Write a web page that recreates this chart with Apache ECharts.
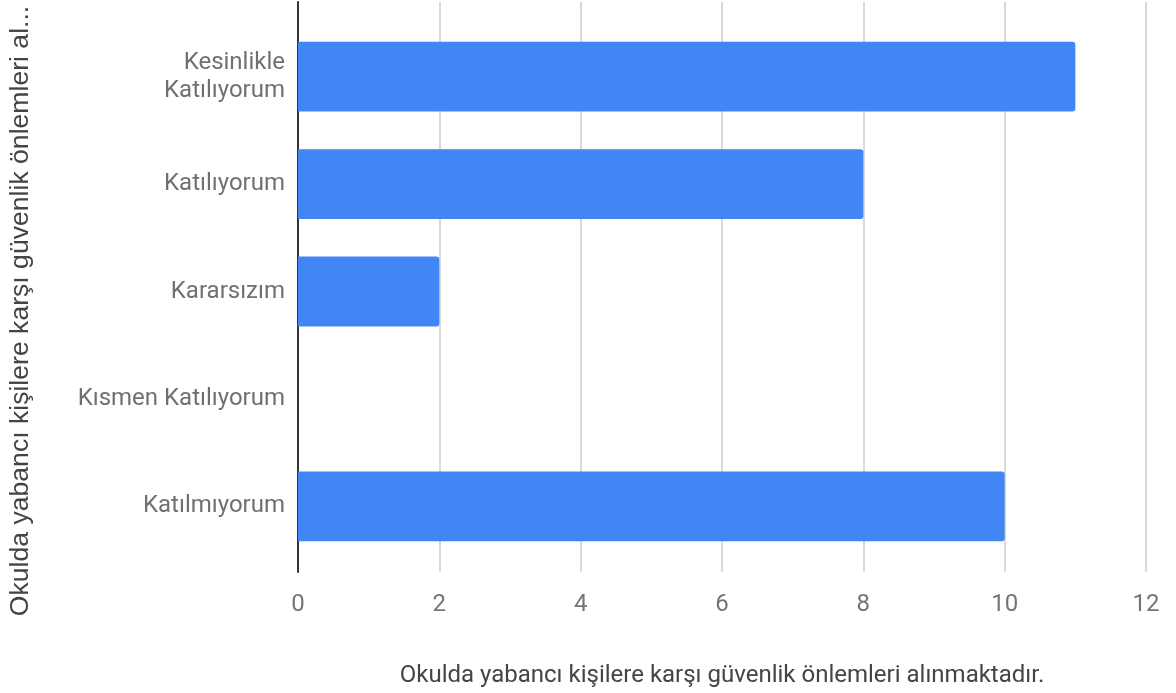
<!DOCTYPE html>
<html>
<head>
<meta charset="utf-8">
<script src="https://cdn.jsdelivr.net/npm/echarts@6/dist/echarts.min.js"></script>
<style>html,body{margin:0;padding:0;background:#fff}#c{width:1176px;height:693px}</style>
</head>
<body>
<div id="c"></div>
<script>
const categories = ['Kesinlikle\nKatılıyorum', 'Katılıyorum', 'Kararsızım', 'Kısmen Katılıyorum', 'Katılmıyorum'];
const values = [11, 8, 2, 0, 10];
const xTicks = { min: 0, max: 12, interval: 2 };
const xTitle = 'Okulda yabancı kişilere karşı güvenlik önlemleri alınmaktadır.';
const yTitle = 'Okulda yabancı kişilere karşı güvenlik önlemleri al...';

const chart = echarts.init(document.getElementById('c'));
chart.setOption({
  animation: false,
  grid: [
    { left: 298, right: 30, top: 23, bottom: 133 },
    { left: 298, right: 30, top: 2, bottom: 114 }
  ],
  xAxis: [
    { gridIndex: 0, type: 'value', min: xTicks.min, max: xTicks.max, interval: xTicks.interval,
      axisLine: { show: false }, axisTick: { show: false }, axisLabel: { show: false }, splitLine: { show: false } },
    { gridIndex: 1, type: 'value', min: xTicks.min, max: xTicks.max, interval: xTicks.interval,
      axisLine: { show: false }, axisTick: { show: false },
      splitLine: { show: true, lineStyle: { color: '#cccccc', width: 1.5 } },
      axisLabel: { fontFamily: 'Roboto', fontSize: 24, color: '#757575', margin: 21 },
      name: xTitle, nameLocation: 'middle', nameGap: 92,
      nameTextStyle: { fontFamily: 'Roboto', fontSize: 24, color: '#444444' } }
  ],
  yAxis: [
    { gridIndex: 0, type: 'category', data: categories, inverse: true,
      axisLine: { show: false }, axisTick: { show: false }, splitLine: { show: false },
      axisLabel: { fontFamily: 'Roboto', fontSize: 24, color: '#707070', margin: 13, lineHeight: 28, align: 'right' } },
    { gridIndex: 1, type: 'value', min: 0, max: 1,
      axisLine: { show: true, lineStyle: { color: '#333333', width: 2 } },
      axisTick: { show: false }, axisLabel: { show: false }, splitLine: { show: false } }
  ],
  series: [{
    type: 'bar', xAxisIndex: 0, yAxisIndex: 0, data: values,
    barCategoryGap: '35%',
    itemStyle: { color: '#4285F4', borderRadius: [0, 3, 3, 0] }
  }],
  graphic: [{
    type: 'text', x: 21, y: 311, rotation: Math.PI / 2,
    style: { text: yTitle, fontFamily: '"Liberation Sans", Arial, sans-serif', fontSize: 26.6, fill: '#444444',
      align: 'center', verticalAlign: 'middle' }
  }]
});
</script>
</body>
</html>
